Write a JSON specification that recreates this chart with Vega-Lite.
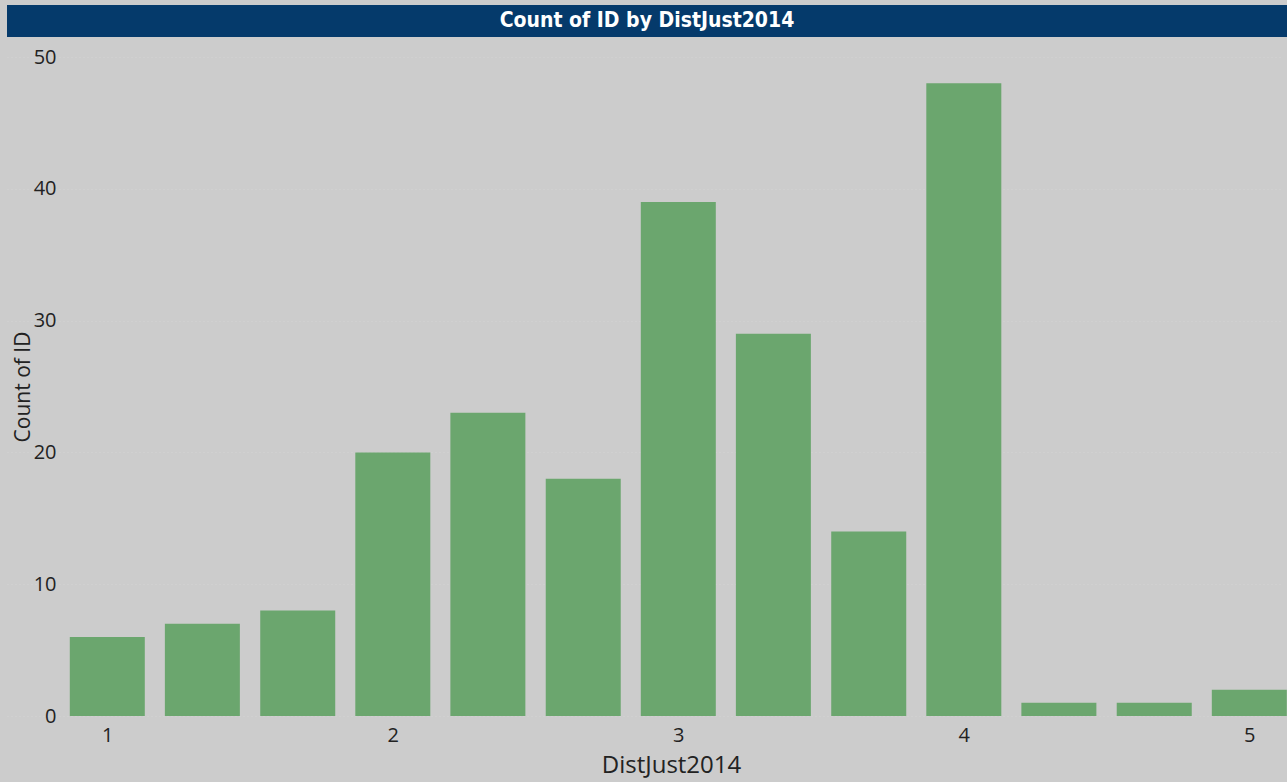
{
  "$schema": "https://vega.github.io/schema/vega-lite/v6.json",
  "background": "#CCCCCC",
  "padding": {"left": 7, "top": 5, "right": 0, "bottom": 12},
  "spacing": 10,
  "config": {"view": {"stroke": null}},
  "vconcat": [
    {
      "width": 1280,
      "height": 32,
      "view": {"fill": "#053A6B", "stroke": null},
      "data": {"values": [{"label": "Count of ID by DistJust2014"}]},
      "mark": {"type": "text", "font": "DejaVu Sans Condensed, DejaVu Sans, sans-serif", "fontWeight": "bold", "fontSize": 21, "color": "#FFFFFF", "baseline": "middle", "align": "center"},
      "encoding": {"text": {"field": "label", "type": "nominal"}}
    },
    {
      "width": 1276,
      "height": 659,
      "data": {"values": [
        {"DistJust2014": 1.0, "Count of ID": 6},
        {"DistJust2014": 1.333, "Count of ID": 7},
        {"DistJust2014": 1.667, "Count of ID": 8},
        {"DistJust2014": 2.0, "Count of ID": 20},
        {"DistJust2014": 2.333, "Count of ID": 23},
        {"DistJust2014": 2.667, "Count of ID": 18},
        {"DistJust2014": 3.0, "Count of ID": 39},
        {"DistJust2014": 3.333, "Count of ID": 29},
        {"DistJust2014": 3.667, "Count of ID": 14},
        {"DistJust2014": 4.0, "Count of ID": 48},
        {"DistJust2014": 4.333, "Count of ID": 1},
        {"DistJust2014": 4.667, "Count of ID": 1},
        {"DistJust2014": 5.0, "Count of ID": 2}
      ]},
      "mark": {"type": "bar", "size": 75, "color": "#6BA66E"},
      "encoding": {
        "x": {
          "field": "DistJust2014",
          "type": "quantitative",
          "scale": {"domain": [0.6662, 5.1005], "nice": false, "zero": false},
          "axis": {
            "values": [1, 2, 3, 4, 5],
            "grid": false,
            "domain": false,
            "ticks": false,
            "labelPadding": 9,
            "labelFont": "Open Sans",
            "labelFontSize": 20,
            "labelColor": "#222222",
            "title": "DistJust2014",
            "titleFont": "Open Sans",
            "titleFontSize": 24,
            "titleFontWeight": "normal",
            "titleColor": "#222222",
            "titlePadding": 8,
            "titleX": 664
          }
        },
        "y": {
          "field": "Count of ID",
          "type": "quantitative",
          "scale": {"domain": [0, 50], "nice": false},
          "axis": {
            "values": [0, 10, 20, 30, 40, 50],
            "offset": -55,
            "grid": true,
            "gridColor": "#D4D4D4",
            "gridDash": [1, 3],
            "gridWidth": 1,
            "domain": false,
            "ticks": false,
            "labelPadding": 6,
            "labelFont": "Open Sans",
            "labelFontSize": 20,
            "labelColor": "#222222",
            "title": "Count of ID",
            "titleFont": "Open Sans",
            "titleFontSize": 21,
            "titleFontWeight": "normal",
            "titleColor": "#222222",
            "titlePadding": 0
          }
        }
      }
    }
  ]
}
